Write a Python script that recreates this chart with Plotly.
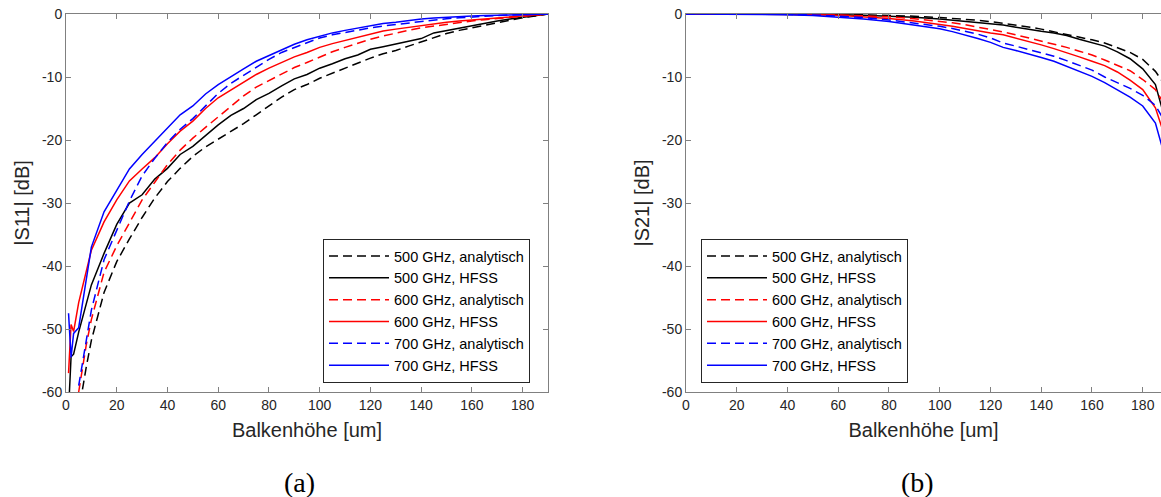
import plotly.graph_objects as go

# ---------------- data: left plot |S11| ----------------
x_hfss_a = [1, 2, 3, 5, 10, 15, 20, 25, 30, 35, 40, 45, 50, 55, 60, 65, 70, 75, 80, 85, 90, 95,
            100, 105, 110, 115, 120, 125, 130, 135, 140, 145, 150, 155, 160, 165, 170, 175, 180, 185, 190]
s11_500_hfss = [-63, -54.4, -54.0, -50.5, -43.0, -38.0, -33.4, -30.0, -28.7, -26.2, -24.5, -22.3, -21.0,
                -19.3, -17.6, -16.1, -15.0, -13.6, -12.6, -11.4, -10.3, -9.6, -8.6, -7.9, -7.1, -6.5,
                -5.6, -5.2, -4.8, -4.4, -3.9, -3.0, -2.6, -2.2, -1.9, -1.5, -1.1, -0.8, -0.5, -0.25, 0]
s11_600_hfss = [-57, -49.3, -50.4, -45.8, -37.5, -33.0, -29.5, -26.5, -24.6, -22.8, -20.6, -18.6, -17.0,
                -15.0, -13.3, -12.1, -10.8, -9.6, -8.6, -7.7, -6.8, -6.1, -5.3, -4.7, -4.2, -3.6,
                -3.1, -2.7, -2.4, -2.1, -1.8, -1.5, -1.3, -1.1, -0.95, -0.75, -0.6, -0.45, -0.3, -0.15, 0]
s11_700_hfss = [-47.5, -54.5, -50.7, -49.8, -37.0, -31.4, -28.0, -24.6, -22.3, -20.2, -18.0, -16.0, -14.6,
                -12.7, -11.2, -9.9, -8.7, -7.5, -6.6, -5.7, -4.8, -4.1, -3.5, -3.0, -2.6, -2.2,
                -1.8, -1.5, -1.3, -1.0, -0.8, -0.65, -0.5, -0.4, -0.3, -0.25, -0.2, -0.12, -0.08, -0.04, 0]

x_ana_a = [5, 6, 8, 10, 15, 20, 25, 30, 35, 40, 45, 50, 55, 60, 65, 70, 75, 80, 85, 90, 95,
           100, 105, 110, 115, 120, 125, 130, 135, 140, 145, 150, 155, 160, 165, 170, 175, 180, 185, 190]
s11_500_ana = [-64, -60.8, -56, -51.8, -44.2, -39.3, -35.7, -32.3, -29.2, -26.6, -24.5, -22.6, -21.1,
               -19.9, -18.7, -17.4, -16.0, -14.6, -13.2, -12.0, -11.2, -10.2, -9.4, -8.5, -7.7, -7.0,
               -6.3, -5.8, -5.1, -4.4, -3.7, -3.1, -2.6, -2.2, -1.8, -1.3, -0.9, -0.6, -0.3, 0]
s11_600_ana = [-60, -57.5, -52.5, -48.5, -41.0, -36.8, -33.2, -29.5, -26.7, -23.9, -21.6, -19.7, -18.0,
               -16.3, -14.6, -13.0, -11.6, -10.6, -9.5, -8.5, -7.7, -6.8, -6.0, -5.3, -4.6, -4.0,
               -3.5, -3.0, -2.6, -2.2, -1.9, -1.6, -1.3, -1.1, -0.9, -0.7, -0.55, -0.4, -0.2, 0]
s11_700_ana = [-59, -56.5, -51.5, -47.0, -39.0, -34.2, -29.7, -25.7, -22.9, -20.4, -18.3, -16.6, -14.6,
               -12.6, -11.0, -9.7, -8.4, -7.2, -6.1, -5.3, -4.5, -3.8, -3.3, -2.9, -2.5, -2.2,
               -1.9, -1.65, -1.4, -1.15, -0.95, -0.75, -0.6, -0.45, -0.35, -0.25, -0.15, -0.1, -0.05, 0]

# ---------------- data: right plot |S21| ----------------
x_b = [0, 10, 20, 30, 40, 50, 60, 70, 80, 90, 100, 105, 110, 115, 120, 125, 130, 135, 140, 145,
       150, 155, 160, 165, 170, 175, 180, 185, 190]
s21_500_ana = [0, 0, 0, 0, -0.01, -0.03, -0.07, -0.13, -0.22, -0.35, -0.55, -0.68, -0.83, -1.0, -1.2,
               -1.45, -1.75, -2.05, -2.4, -2.8, -3.2, -3.65, -4.1, -4.6, -5.3, -6.1, -7.2, -9.1, -12.0]
s21_500_hfss = [0, 0, 0, 0, -0.02, -0.05, -0.1, -0.2, -0.3, -0.5, -0.8, -1.0, -1.2, -1.35, -1.5,
                -1.75, -2.1, -2.45, -2.75, -3.0, -3.4, -4.0, -4.6, -5.1, -6.0, -7.1, -8.7, -11.2, -18.5]
s21_600_ana = [0, 0, 0, 0, -0.02, -0.06, -0.15, -0.28, -0.45, -0.75, -1.15, -1.4, -1.7, -2.05, -2.45,
               -2.85, -3.3, -3.8, -4.2, -4.7, -5.3, -5.9, -6.5, -7.3, -8.1, -9.0, -10.4, -12.0, -15.3]
s21_600_hfss = [0, 0, 0, 0, -0.03, -0.08, -0.2, -0.4, -0.7, -1.1, -1.6, -1.95, -2.3, -2.7, -3.0,
                -3.3, -3.8, -4.4, -4.9, -5.5, -6.1, -6.8, -7.5, -8.2, -9.2, -10.5, -12.0, -14.9, -21.0]
s21_700_ana = [0, 0, 0, -0.02, -0.06, -0.15, -0.3, -0.55, -0.95, -1.4, -1.95, -2.3, -2.75, -3.2, -3.8,
               -4.6, -5.1, -5.6, -6.1, -6.7, -7.4, -8.1, -8.9, -10.0, -10.9, -11.8, -12.9, -14.5, -18.0]
s21_700_hfss = [0, 0, -0.01, -0.04, -0.1, -0.22, -0.45, -0.8, -1.2, -1.75, -2.35, -2.8, -3.3, -3.9, -4.5,
                -5.3, -5.8, -6.3, -6.9, -7.5, -8.3, -9.1, -9.9, -10.9, -12.0, -13.2, -14.6, -17.3, -24.5]

series_names = ["500 GHz, analytisch", "500 GHz, HFSS", "600 GHz, analytisch",
                "600 GHz, HFSS", "700 GHz, analytisch", "700 GHz, HFSS"]
series_colors = ["#000000", "#000000", "#ff0000", "#ff0000", "#0000ff", "#0000ff"]
series_dash = ["9px,5px", "solid", "9px,5px", "solid", "9px,5px", "solid"]

x_tickvals = [0, 20, 40, 60, 80, 100, 120, 140, 160, 180]
x_ticktext = ["0", "20", "40", "60", "80", "100", "120", "140", "160", "180"]
y_tickvals = [-60, -50, -40, -30, -20, -10, 0]
y_ticktext = ["-60", "-50", "-40", "-30", "-20", "-10", "0"]

left_x = [x_ana_a, x_hfss_a, x_ana_a, x_hfss_a, x_ana_a, x_hfss_a]
left_y = [s11_500_ana, s11_500_hfss, s11_600_ana, s11_600_hfss, s11_700_ana, s11_700_hfss]
right_y = [s21_500_ana, s21_500_hfss, s21_600_ana, s21_600_hfss, s21_700_ana, s21_700_hfss]

FONT = "Liberation Sans, Arial, sans-serif"
TXT = "#262626"
AX = "#808080"

fig = go.Figure()
for i in range(6):
    fig.add_trace(go.Scatter(x=left_x[i], y=left_y[i], mode="lines", name=series_names[i],
                             line=dict(color=series_colors[i], dash=series_dash[i], width=1.5),
                             xaxis="x", yaxis="y", legend="legend", hoverinfo="skip"))
for i in range(6):
    fig.add_trace(go.Scatter(x=x_b, y=right_y[i], mode="lines", name=series_names[i],
                             line=dict(color=series_colors[i], dash=series_dash[i], width=1.5),
                             xaxis="x2", yaxis="y2", legend="legend2", hoverinfo="skip"))

W, H = 1161, 497
def px_x(p):
    return p / W
def px_y(p):
    return 1 - p / H

common_ax = dict(showgrid=False, zeroline=False, showline=True, linecolor=AX, linewidth=1,
                 ticks="inside", ticklen=5, tickcolor=AX, tickwidth=1, automargin=False,
                 ticklabeloverflow="allow",
                 tickfont=dict(family=FONT, size=14, color=TXT))
title_font = dict(family=FONT, size=20, color=TXT)
legend_common = dict(xanchor="left", yanchor="top", bgcolor="white", bordercolor=TXT, borderwidth=1,
                     font=dict(family=FONT, size=14.5, color="#000000"), traceorder="normal",
                     itemwidth=60, tracegroupgap=0)
caption_font = dict(family="Liberation Serif, DejaVu Serif, serif", size=28, color="#000000")

fig.update_layout(
    width=W, height=H, margin=dict(l=0, r=0, t=0, b=0, autoexpand=False),
    paper_bgcolor="white", plot_bgcolor="white",
    font=dict(family=FONT, color=TXT),
    hovermode=False,
    xaxis=dict(domain=[px_x(66), px_x(548)], range=[0, 190], anchor="y", mirror="ticks",
               tickvals=x_tickvals, ticktext=x_ticktext,
               title=dict(text="Balkenhöhe [um]", font=title_font, standoff=11),
               **common_ax),
    yaxis=dict(domain=[px_y(392), px_y(14)], range=[-60, 0], anchor="x", mirror="ticks",
               tickvals=y_tickvals, ticktext=y_ticktext,
               title=dict(text="|S11| [dB]", font=title_font, standoff=6),
               **common_ax),
    xaxis2=dict(domain=[px_x(686), 1.0], range=[0, 187.2], anchor="y2", mirror="ticks",
                tickvals=x_tickvals, ticktext=x_ticktext,
                title=dict(text="Balkenhöhe [um]", font=title_font, standoff=11),
                **common_ax),
    yaxis2=dict(domain=[px_y(392), px_y(14)], range=[-60, 0], anchor="x2", mirror=False,
                tickvals=y_tickvals, ticktext=y_ticktext,
                title=dict(text="|S21| [dB]", font=title_font, standoff=6),
                **common_ax),
    legend=dict(x=px_x(323), y=px_y(239), **legend_common),
    legend2=dict(x=px_x(701), y=px_y(239), **legend_common),
    annotations=[
        dict(text="(a)", x=px_x(299), y=px_y(482), xref="paper", yref="paper",
             xanchor="center", yanchor="middle", showarrow=False, font=caption_font),
        dict(text="(b)", x=px_x(917), y=px_y(482), xref="paper", yref="paper",
             xanchor="center", yanchor="middle", showarrow=False, font=caption_font),
    ],
)

# place the figure flush with the window corner (no default page margin / scrollbars)
fig.write_html("out.html", config={"displayModeBar": False, "staticPlot": True},
               post_script="document.body.style.margin='0';document.body.style.overflow='hidden';")
